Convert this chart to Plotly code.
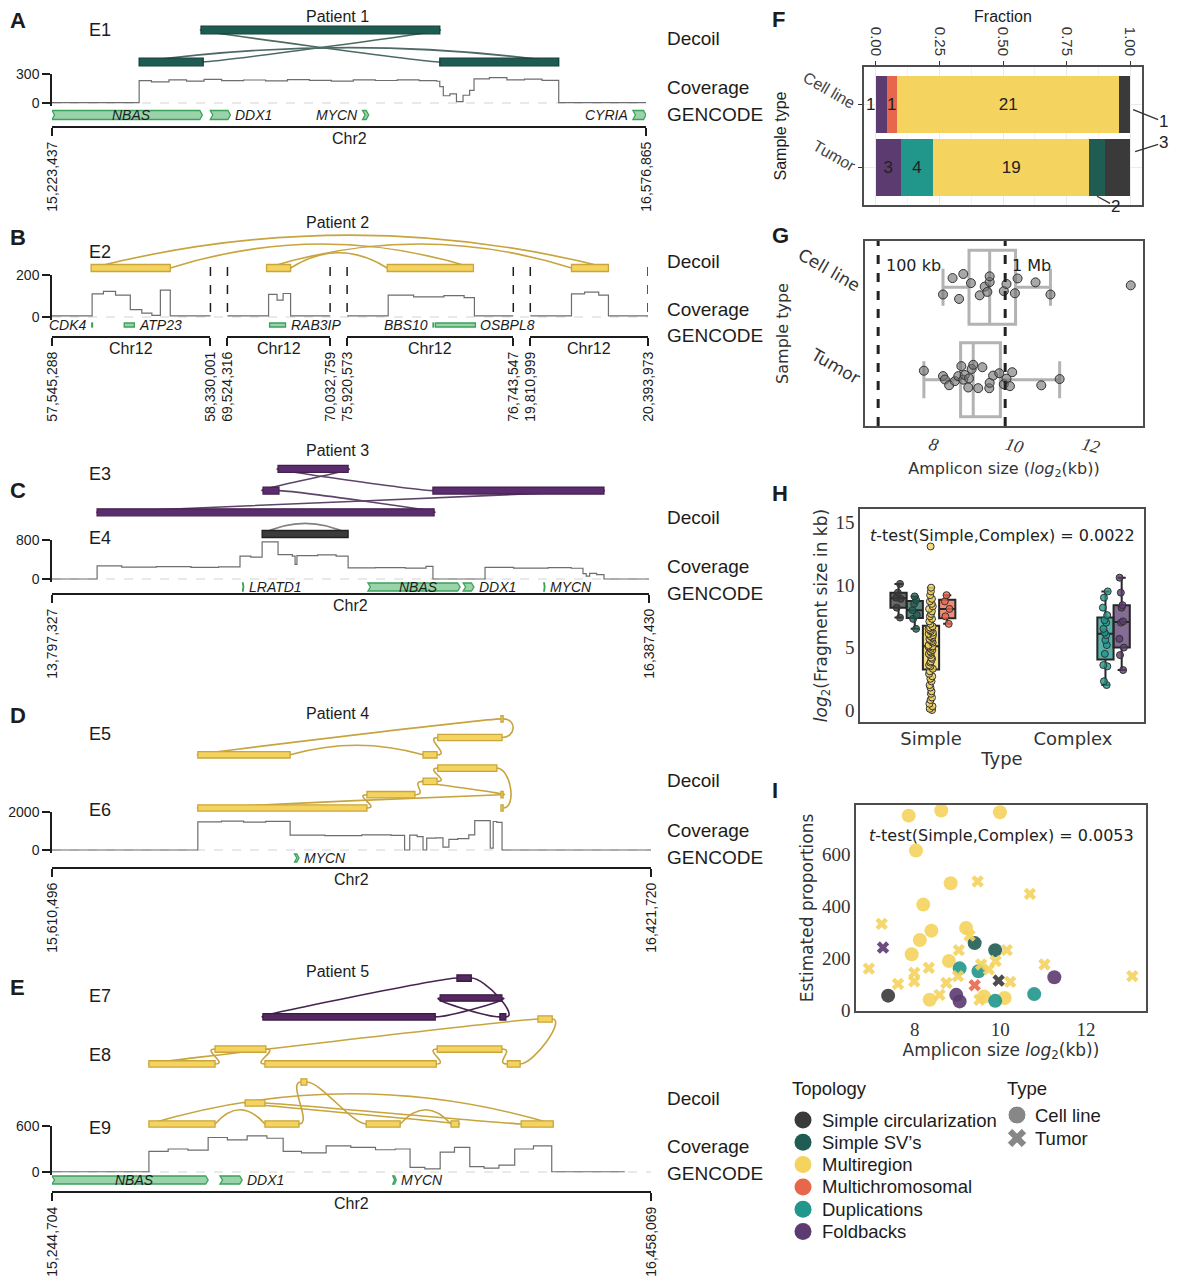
import math
import plotly.graph_objects as go

W, H = 1178, 1280
OX, OY = 8, 8                      # the page body margin the figure sits in
FW, FH = W - OX, H - OY
SANS, DJV, SERIF = "Liberation Sans", "DejaVu Sans", "Liberation Serif"
INK = "#1c1c1c"

# ---------------- shared categories ----------------
TOPOLOGY = ["Simple circularization", "Simple SV’s", "Multiregion",
            "Multichromosomal", "Duplications", "Foldbacks"]
TOPO_COLOR = ["#3a3a3a", "#1f5d53", "#f4d35e", "#e8674c", "#21968b", "#5c3b70"]
SAMPLE_TYPES = ["Cell line", "Tumor"]

# ---------------- A: patient 1 (positions in Mb) ----------------
A_seg_start = [15223437]
A_seg_end = [16576865]
A_bar_row = [1, 0, 0]
A_bar_start = [15.563, 15.422, 16.107]
A_bar_end = [16.107, 15.568, 16.378]
A_bar_ec = ["E1", "E1", "E1"]
A_links = [(0, "L", 2, "L"), (0, "R", 1, "R"), (1, "L", 2, "R")]
A_cov_x = [15.2234, 15.422, 15.45, 15.49, 15.53, 15.57, 15.61, 15.66, 15.71, 15.76, 15.81, 15.86,
           15.91, 15.96, 16.01, 16.06, 16.10, 16.107, 16.115, 16.13, 16.145, 16.16, 16.175, 16.185,
           16.22, 16.26, 16.30, 16.34, 16.378, 16.5769]
A_cov_y = [3, 232, 218, 240, 226, 244, 232, 238, 228, 241, 235, 226, 239, 233, 240, 231, 225, 170,
           75, 95, 15, 80, 130, 250, 262, 240, 246, 235, 3, 3]
A_gene_name = ["NBAS", "DDX1", "MYCN", "CYRIA"]
A_gene_start = [15.2234, 15.584, 15.931, 16.547]
A_gene_end = [15.566, 15.630, 15.945, 16.5769]
A_gene_side = ["in", "right", "left", "left"]

# ---------------- B: patient 2 (four chr12 windows) ----------------
B_seg_start = [57545288, 69524316, 75920573, 19810999]
B_seg_end = [58330001, 70032759, 76743547, 20393973]
B_bar_seg = [0, 1, 2, 3]
B_bar_row = [0, 0, 0, 0]
B_bar_start = [57.739, 69.718, 76.119, 20.015]
B_bar_end = [58.131, 69.837, 76.546, 20.198]
B_bar_ec = ["E2"] * 4
B_links = [(0, "L", 3, "R"), (0, "R", 2, "R"), (1, "L", 3, "L"), (1, "R", 2, "L")]
B_cov_seg = [0] * 10 + [1] * 6 + [2] * 7 + [3] * 6
B_cov_x = [57.5453, 57.744, 57.80, 57.86, 57.933, 57.99, 58.04, 58.082, 58.131, 58.330,
           69.5243, 69.728, 69.77, 69.80, 69.837, 70.0328,
           75.9206, 76.124, 76.25, 76.40, 76.50, 76.551, 76.7435,
           19.811, 20.015, 20.08, 20.15, 20.198, 20.394]
B_cov_y = [5, 110, 122, 104, 35, 18, 8, 128, 5, 5,
           5, 108, 80, 112, 5, 5,
           5, 104, 96, 102, 92, 5, 5,
           5, 110, 118, 104, 5, 5]
B_gene_name = ["CDK4", "ATP23", "RAB3IP", "BBS10", "OSBPL8"]
B_gene_seg = [0, 0, 1, 2, 2]
B_gene_start = [57.742, 57.903, 69.733, 76.346, 76.358]
B_gene_end = [57.746, 57.953, 69.812, 76.349, 76.556]
B_gene_side = ["left", "right", "right", "left", "right"]

# ---------------- C: patient 3 ----------------
C_seg_start = [13797327]
C_seg_end = [16387430]
C_bar_row = [3, 2, 2, 1, 0]
C_bar_start = [14.778, 14.713, 15.450, 13.993, 14.709]
C_bar_end = [15.082, 14.782, 16.192, 15.455, 15.082]
C_bar_ec = ["E3", "E3", "E3", "E3", "E4"]
C_links = [(0, "L", 2, "L"), (0, "R", 1, "L"), (1, "R", 3, "R"), (2, "R", 3, "L"), (4, "L", 4, "R")]
C_cov_x = [13.7973, 13.993, 14.10, 14.25, 14.40, 14.52, 14.613, 14.66, 14.709, 14.778, 14.84,
           14.852, 14.86, 14.95, 15.03, 15.082, 15.20, 15.33, 15.42, 15.450, 15.676, 15.80, 15.95,
           16.05, 16.101, 16.115, 16.13, 16.16, 16.192, 16.3874]
C_cov_y = [0, 270, 245, 255, 240, 250, 470, 450, 760, 500, 470, 300, 480, 495, 470, 230, 235, 225,
           260, 0, 240, 225, 235, 220, 110, 60, 115, 90, 0, 0]
C_gene_name = ["LRATD1", "NBAS", "DDX1", "MYCN"]
C_gene_start = [14.624, 15.168, 15.581, 15.931]
C_gene_end = [14.629, 15.568, 15.628, 15.936]
C_gene_side = ["right", "in", "right", "right"]

# ---------------- D: patient 4 ----------------
D_seg_start = [15610496]
D_seg_end = [16421720]
D_bar_row = [5.3, 4, 4, 6.7, 3, 2, 1, 0, 1, 0]
D_bar_start = [16.133, 15.808, 16.113, 16.2185, 16.133, 16.113, 16.037, 15.808, 16.2185, 16.2185]
D_bar_end = [16.220, 15.933, 16.132, 16.2215, 16.213, 16.132, 16.102, 16.037, 16.2215, 16.2215]
D_bar_ec = ["E5"] * 4 + ["E6"] * 6
D_links = [(1, "L", 3, "L"), (1, "R", 2, "L"), (2, "R", 0, "L"), (0, "R", 3, "R"),
           (7, "R", 6, "L"), (6, "R", 5, "L"), (5, "R", 4, "L"), (4, "R", 9, "R"),
           (5, "L", 8, "R"), (7, "L", 8, "L")]
D_cov_x = [15.6105, 15.808, 15.84, 15.87, 15.90, 15.933, 15.98, 16.03, 16.07, 16.088, 16.095,
           16.105, 16.113, 16.118, 16.13, 16.14, 16.148, 16.16, 16.175, 16.183, 16.204, 16.208,
           16.213, 16.220, 16.4217]
D_cov_y = [0, 1480, 1520, 1470, 1510, 780, 760, 800, 770, 0, 780, 700, 0, 620, 640, 150, 560, 600,
           800, 1550, 100, 1500, 1450, 0, 0]
D_gene_name = ["MYCN"]
D_gene_start = [15.939]
D_gene_end = [15.945]
D_gene_side = ["right"]

# ---------------- E: patient 5 ----------------
E_seg_start = [15244704]
E_seg_end = [16458069]
E_bar_row = [6.95, 6.0, 5.1, 5.1, 5.0, 3.57, 3.57, 2.86, 2.86, 2.86, 2, 1, 0, 0, 0, 0, 0]
E_bar_start = [16.065, 16.031, 15.672, 16.152, 16.229, 15.575, 16.025, 15.441, 15.676, 16.167,
               15.749, 15.636, 15.441, 15.676, 15.881, 16.053, 16.195]
E_bar_end = [16.094, 16.156, 16.021, 16.164, 16.258, 15.678, 16.156, 15.575, 16.023, 16.193,
             15.761, 15.676, 15.575, 15.745, 15.950, 16.069, 16.260]
E_bar_ec = ["E7"] * 4 + ["E8"] * 6 + ["E9"] * 7
E_links = [(2, "L", 0, "L"), (2, "R", 1, "R"), (1, "L", 3, "L"), (0, "R", 3, "R"),
           (7, "R", 5, "L"), (5, "R", 8, "L"), (8, "R", 6, "L"), (6, "R", 9, "L"),
           (9, "R", 4, "R"), (4, "L", 7, "L"),
           (12, "L", 16, "R"), (12, "R", 13, "L"), (13, "R", 10, "L"), (10, "R", 14, "L"),
           (14, "R", 15, "L"), (15, "R", 11, "L"), (11, "R", 16, "L")]
E_cov_x = [15.2447, 15.441, 15.48, 15.52, 15.561, 15.60, 15.64, 15.68, 15.713, 15.75, 15.80, 15.85,
           15.90, 15.94, 15.970, 16.00, 16.031, 16.06, 16.091, 16.12, 16.15, 16.182, 16.22, 16.257,
           16.405]
E_cov_y = [3, 270, 300, 285, 450, 420, 470, 440, 270, 250, 340, 320, 290, 300, 60, 40, 260, 320,
           70, 50, 90, 300, 340, 3, 3]
E_gene_name = ["NBAS", "DDX1", "MYCN"]
E_gene_start = [15.2447, 15.585, 15.935]
E_gene_end = [15.561, 15.630, 15.942]
E_gene_side = ["in", "right", "right"]

# ---------------- F: topology counts ----------------
F_order = ["Foldbacks", "Multichromosomal", "Duplications", "Multiregion",
           "Simple SV’s", "Simple circularization"]
F_cell = [1, 1, 0, 21, 0, 1]
F_tumor = [3, 0, 4, 19, 2, 3]

# ---------------- G: amplicon size (log2 kb) ----------------
G_cell = [8.34, 8.59, 8.76, 8.87, 9.07, 9.30, 9.43, 9.50, 9.56, 9.56, 9.93, 10.00, 10.22, 10.29,
          10.76, 11.15, 13.25]
G_tumor = [7.84, 8.34, 8.39, 8.50, 8.65, 8.74, 8.82, 8.87, 8.91, 9.00, 9.02, 9.09, 9.13, 9.26,
           9.37, 9.55, 9.56, 9.65, 9.81, 9.93, 10.00, 10.09, 10.15, 10.91, 11.39]

# ---------------- H: fragment sizes (log2 kb) ----------------
H_type = ["Simple", "Simple", "Simple", "Simple", "Complex", "Complex"]
H_sc = [7.4, 8.2, 8.9, 9.0, 9.4, 10.1]
H_sv = [6.5, 7.3, 7.6, 8.0, 8.5, 8.8, 9.1]
H_mr = [0.0, 0.1, 0.3, 0.5, 0.8, 1.0, 1.3, 1.5, 1.8, 2.0, 2.3, 2.5, 2.7, 2.9, 3.1, 3.3,
        3.5, 3.6, 3.8, 3.9, 4.1, 4.2, 4.4, 4.5, 4.6, 4.7, 4.8, 4.9, 5.0, 5.1, 5.1,
        5.2, 5.4, 5.5, 5.6, 5.7, 5.8, 5.9, 6.0, 6.1, 6.2, 6.3, 6.4, 6.5, 6.6, 6.7,
        6.9, 7.1, 7.3, 7.5, 7.7, 7.9, 8.1, 8.3, 8.5, 8.7, 8.9, 9.2, 9.5, 9.8, 13.1]
H_mc = [6.9, 7.5, 8.1, 8.7, 9.2]
H_dup = [2.0, 2.3, 3.5, 3.6, 4.5, 5.2, 5.6, 6.0, 6.2, 6.5, 7.0, 7.2, 7.6, 8.2, 9.0, 9.5]
H_fb = [3.2, 4.4, 5.0, 5.7, 7.0, 7.1, 8.2, 8.4, 9.4, 10.6]

# ---------------- I: size vs estimated proportions ----------------
I_cell_size = [7.86, 8.62, 9.99, 8.03, 8.84, 8.20, 9.20, 8.39, 8.12, 7.93, 8.80, 8.35, 10.10, 9.62,
               7.38, 9.40, 9.88, 9.05, 9.49, 9.88, 10.79, 8.97, 9.05, 11.26]
I_cell_prop = [747, 767, 760, 613, 487, 405, 315, 305, 269, 214, 188, 39, 46, 52,
               55, 257, 230, 160, 149, 35, 61, 58, 33, 126]
I_cell_topo = ["Multiregion"] * 14 + ["Simple circularization"] + ["Simple SV’s"] * 2 + \
              ["Duplications"] * 4 + ["Foldbacks"] * 3
I_tumor_size = [7.23, 6.93, 7.61, 7.99, 7.99, 8.33, 8.58, 8.74, 9.01, 9.03, 9.28, 9.47, 9.55, 9.73,
                9.89, 9.51, 10.15, 10.23, 10.69, 11.03, 13.08, 7.26, 9.40, 9.96]
I_tumor_prop = [331, 159, 100, 110, 143, 162, 58, 104, 130, 230, 286, 494, 175, 156,
                188, 39, 230, 108, 446, 175, 130, 240, 95, 113]
I_tumor_topo = ["Multiregion"] * 21 + ["Foldbacks", "Multichromosomal", "Simple circularization"]

# ---------------- styling ----------------
EC_STYLE = {  # fill, edge, link
    "E1": ("#1d5c52", "#123f38", "#4d6a65"),
    "E2": ("#f4d35e", "#c9a53c", "#c7a43e"),
    "E3": ("#5b2d6e", "#45204f", "#5e4468"),
    "E4": ("#3b3b3b", "#222222", "#808080"),
    "E5": ("#f4d35e", "#c9a53c", "#c7a43e"),
    "E6": ("#f4d35e", "#c9a53c", "#c7a43e"),
    "E7": ("#55285f", "#3b1a44", "#46224f"),
    "E8": ("#f4d35e", "#c9a53c", "#c7a43e"),
    "E9": ("#f4d35e", "#c9a53c", "#c7a43e"),
}

fig = go.Figure()
LAY, shapes, annos = {}, [], []
cnt = {"x": 0, "y": 0}


def px(p):
    return (p - OX) / FW


def py(p):
    return 1 - (p - OY) / FH


def axis(kind, **kw):
    cnt[kind] += 1
    n = cnt[kind]
    suffix = "" if n == 1 else str(n)
    LAY[f"{kind}axis{suffix}"] = kw
    return kind + suffix, f"{kind}axis{suffix}"


def text(x, y, s, size=16, family=SANS, anchor="center", color=INK, **kw):
    annos.append(dict(x=px(x), y=py(y), xref="paper", yref="paper", text=s, showarrow=False,
                      xanchor=anchor, yanchor="middle",
                      font=dict(family=family, size=size, color=color), **kw))


def track_panel(d, c):
    segs = list(zip(d["seg_start"], d["seg_end"]))
    x0px, x1px = c["xdom"]
    gap = 17
    total = sum(e - s for s, e in segs)
    bpp = total / (x1px - x0px - gap * (len(segs) - 1))
    offs, o = [], 0.0
    for s, e in segs:
        offs.append(o)
        o += (e - s) + gap * bpp
    span = o - gap * bpp

    def X(seg, mb):
        return offs[seg] + mb * 1e6 - segs[seg][0]

    xr, xk = axis("x", domain=[px(x0px), px(x1px)], range=[0, span], visible=False)
    zero, top, cmax = c["cov"]
    pad = 3
    yc, yck = axis("y", domain=[py(zero + pad), py(top)],
                   range=[-cmax * pad / (zero - top), cmax], anchor=xr,
                   tickvals=[0, cmax], ticktext=["0", str(cmax)], ticks="outside", ticklen=8,
                   tickwidth=1.5, tickcolor=INK, showline=True, linewidth=1.5, linecolor=INK,
                   tickfont=dict(size=14, color=INK), showgrid=False, zeroline=False)
    LAY[xk]["anchor"] = yc
    base, step, dtop = c["dec"]
    yd, _ = axis("y", domain=[py(base + 14), py(dtop)],
                 range=[-14 / step, (base - dtop) / step], anchor=xr, visible=False)
    gpx, gh = c["gene"]
    yg, _ = axis("y", domain=[py(gpx + 8), py(gpx - 8)], range=[-8, 8], anchor=xr, visible=False)

    # coverage
    cseg = d.get("cov_seg") or [0] * len(d["cov_x"])
    xs, ys, prev = [], [], None
    for s, x, v in zip(cseg, d["cov_x"], d["cov_y"]):
        if prev is not None and s != prev:
            xs.append(None)
            ys.append(None)
        xs.append(X(s, x))
        ys.append(v)
        prev = s
    shapes.append(dict(type="line", xref=xr, yref=yc, x0=0, x1=span, y0=0, y1=0, layer="below",
                       line=dict(color="#d4d4d4", width=1.2, dash="dash")))
    fig.add_trace(go.Scatter(x=xs, y=ys, xaxis=xr, yaxis=yc, mode="lines", line_shape="hv",
                             line=dict(color="#6e6e6e", width=1.2), hoverinfo="skip",
                             showlegend=False))

    # segment axes with coordinates
    for i, (s, e) in enumerate(segs):
        a = x0px + offs[i] / bpp
        b = a + (e - s) / bpp
        xa, _ = axis("x", domain=[px(a), px(b)], range=[s, e], anchor="free",
                     position=py(c["axis"]), tickvals=[s, e], ticktext=[f"{s:,}", f"{e:,}"],
                     tickangle=-90, ticks="outside", ticklen=8, tickwidth=2, tickcolor=INK,
                     showline=True, linewidth=2, linecolor=INK, showgrid=False, zeroline=False,
                     tickfont=dict(size=14, color=INK))
        fig.add_trace(go.Scatter(x=[s], y=[0], xaxis=xa, yaxis=yc, mode="markers",
                                 marker=dict(opacity=0), hoverinfo="skip", showlegend=False))
        text((a + b) / 2, c["axis"] + 11, d["chrom"], 16)
        if len(segs) > 1:
            for edge in ([e] if i == 0 else [s, e]):
                xe = X(i, edge / 1e6)
                shapes.append(dict(type="line", xref=xr, yref="paper", x0=xe, x1=xe,
                                   y0=py(312), y1=py(267),
                                   line=dict(color=INK, width=1.5, dash="dash")))

    # decoil connections then fragments
    bseg = d.get("bar_seg") or [0] * len(d["bar_row"])
    ends = []
    for s, r, b0, b1 in zip(bseg, d["bar_row"], d["bar_start"], d["bar_end"]):
        ends.append({"L": X(s, b0), "R": X(s, b1), "row": r})
    lift = c.get("lift", 1.0)
    for ia, sa, ib, sb in d["links"]:
        xa, ya = ends[ia][sa], ends[ia]["row"]
        xb, yb = ends[ib][sb], ends[ib]["row"]
        if abs(ya - yb) < 1e-9:
            apex = lift * (8 + 0.03 * abs(xb - xa) / bpp)
            path = f"M{xa},{ya} Q{(xa + xb) / 2},{ya + 2 * apex / step} {xb},{yb}"
        else:
            k = 14 * bpp
            da = 1 if sa == "R" else -1
            db = 1 if sb == "R" else -1
            path = f"M{xa},{ya} C{xa + da * k},{ya} {xb + db * k},{yb} {xb},{yb}"
        shapes.append(dict(type="path", path=path, xref=xr, yref=yd,
                           line=dict(color=EC_STYLE[d["bar_ec"][ia]][2], width=1.6)))
    half = c.get("half", 3.5) / step
    for en, ec in zip(ends, d["bar_ec"]):
        fill, edge, _ = EC_STYLE[ec]
        shapes.append(dict(type="rect", xref=xr, yref=yd, x0=en["L"], x1=en["R"],
                           y0=en["row"] - half, y1=en["row"] + half, fillcolor=fill,
                           line=dict(color=edge, width=1.3)))

    # genes
    gseg = d.get("gene_seg") or [0] * len(d["gene_name"])
    for s, nm, g0, g1, side in zip(gseg, d["gene_name"], d["gene_start"], d["gene_end"],
                                   d["gene_side"]):
        xs0, xs1 = X(s, g0), X(s, g1)
        h = gh / 2
        dd = min(2.5 * bpp, (xs1 - xs0) / 2)
        if gh > 5:
            path = (f"M{xs0},{-h} L{xs1 - dd},{-h} L{xs1},0 L{xs1 - dd},{h} "
                    f"L{xs0},{h} L{xs0 + dd},0 Z")
            shapes.append(dict(type="path", path=path, xref=xr, yref=yg,
                               fillcolor="rgba(120,195,140,0.75)",
                               line=dict(color="#3aa35a", width=1.3)))
        else:
            shapes.append(dict(type="rect", xref=xr, yref=yg, x0=xs0, x1=xs1, y0=-h, y1=h,
                               fillcolor="rgba(120,195,140,0.75)",
                               line=dict(color="#3aa35a", width=1.3)))
        if side == "in":
            lx, anc = (xs0 + xs1) / 2 + 4 * bpp, "center"
        elif side == "right":
            lx, anc = xs1 + 3 * bpp, "left"
        else:
            lx, anc = xs0 - 3 * bpp, "right"
        annos.append(dict(x=lx, y=0, xref=xr, yref=yg, text=f"<i>{nm}</i>", showarrow=False,
                          xanchor=anc, yanchor="middle",
                          font=dict(family=SANS, size=14, color=INK)))

    # labels
    text(8, c["letter"][1], f"<b>{c['letter'][0]}</b>", 22, anchor="left")
    text(337, c["patient"][1], c["patient"][0], 16)
    for nm, ypx in c["ec"]:
        text(100, ypx, nm, 18)
    for lab, ypx in zip(["Decoil", "Coverage", "GENCODE"], c["right"]):
        text(665, ypx, lab, 19, anchor="left")


track_panel(
    dict(seg_start=A_seg_start, seg_end=A_seg_end, chrom="Chr2", cov_x=A_cov_x, cov_y=A_cov_y,
         bar_row=A_bar_row, bar_start=A_bar_start, bar_end=A_bar_end, bar_ec=A_bar_ec,
         links=A_links, gene_name=A_gene_name, gene_start=A_gene_start, gene_end=A_gene_end,
         gene_side=A_gene_side),
    dict(xdom=(52, 646), axis=127, cov=(103, 74, 300), dec=(62, 32, 10), gene=(115, 9),
         lift=0.7, half=3.8, letter=("A", 21), patient=("Patient 1", 17), ec=[("E1", 30)],
         right=(38, 87, 114)))

track_panel(
    dict(seg_start=B_seg_start, seg_end=B_seg_end, chrom="Chr12", cov_seg=B_cov_seg,
         cov_x=B_cov_x, cov_y=B_cov_y, bar_seg=B_bar_seg, bar_row=B_bar_row,
         bar_start=B_bar_start, bar_end=B_bar_end, bar_ec=B_bar_ec, links=B_links,
         gene_seg=B_gene_seg, gene_name=B_gene_name, gene_start=B_gene_start,
         gene_end=B_gene_end, gene_side=B_gene_side),
    dict(xdom=(52, 648), axis=337, cov=(317, 275, 200), dec=(268, 20, 222), gene=(325, 4),
         lift=1.4, letter=("B", 237), patient=("Patient 2", 222), ec=[("E2", 252)],
         right=(261, 309, 336)))

track_panel(
    dict(seg_start=C_seg_start, seg_end=C_seg_end, chrom="Chr2", cov_x=C_cov_x, cov_y=C_cov_y,
         bar_row=C_bar_row, bar_start=C_bar_start, bar_end=C_bar_end, bar_ec=C_bar_ec,
         links=C_links, gene_name=C_gene_name, gene_start=C_gene_start, gene_end=C_gene_end,
         gene_side=C_gene_side),
    dict(xdom=(52, 649), axis=594, cov=(579, 540, 800), dec=(534, 21.7, 440), gene=(587, 8),
         letter=("C", 490), patient=("Patient 3", 450), ec=[("E3", 474), ("E4", 538)],
         right=(518, 566, 593)))

track_panel(
    dict(seg_start=D_seg_start, seg_end=D_seg_end, chrom="Chr2", cov_x=D_cov_x, cov_y=D_cov_y,
         bar_row=D_bar_row, bar_start=D_bar_start, bar_end=D_bar_end, bar_ec=D_bar_ec,
         links=D_links, gene_name=D_gene_name, gene_start=D_gene_start, gene_end=D_gene_end,
         gene_side=D_gene_side),
    dict(xdom=(52, 651), axis=868, cov=(850, 812, 2000), dec=(808, 13.3, 705), gene=(858, 8),
         lift=0.8, half=3.2, letter=("D", 715), patient=("Patient 4", 713),
         ec=[("E5", 734), ("E6", 810)], right=(781, 830, 857)))

track_panel(
    dict(seg_start=E_seg_start, seg_end=E_seg_end, chrom="Chr2", cov_x=E_cov_x, cov_y=E_cov_y,
         bar_row=E_bar_row, bar_start=E_bar_start, bar_end=E_bar_end, bar_ec=E_bar_ec,
         links=E_links, gene_name=E_gene_name, gene_start=E_gene_start, gene_end=E_gene_end,
         gene_side=E_gene_side),
    dict(xdom=(52, 651), axis=1192, cov=(1172, 1126, 600), dec=(1124, 21, 962),
         gene=(1180, 8), lift=1.5, half=3.2, letter=("E", 987), patient=("Patient 5", 971),
         ec=[("E7", 996), ("E8", 1055), ("E9", 1128)], right=(1098, 1146, 1173)))

FRAME = dict(showline=True, mirror=True, linecolor="#4d4d4d", linewidth=1.5, zeroline=False)

# ---------------- F ----------------
xF, kxF = axis("x", domain=[px(864), px(1142)], range=[-0.047, 1.047], side="top",
               tickvals=[0, 0.25, 0.5, 0.75, 1], ticktext=["0.00", "0.25", "0.50", "0.75", "1.00"],
               tickangle=90, ticks="outside", ticklen=4, tickcolor="#333",
               tickfont=dict(family=SANS, size=15, color="#333"), showgrid=True,
               gridcolor="#ebebeb", minor=dict(tick0=0.125, dtick=0.25, showgrid=True,
                                               gridcolor="#f3f3f3"),
               title=dict(text="Fraction", font=dict(family=SANS, size=16, color=INK),
                          standoff=5), **FRAME)
yF, kyF = axis("y", domain=[py(205), py(67)], type="category", categoryorder="array",
               categoryarray=SAMPLE_TYPES, range=[1.6, -0.6], tickangle=30, ticks="outside",
               ticklen=4, tickcolor="#333", tickfont=dict(family=SANS, size=16, color="#444"),
               showgrid=True, gridcolor="#ebebeb",
               title=dict(text="Sample type", font=dict(family=SANS, size=16, color=INK),
                          standoff=10), **FRAME)
LAY[kxF]["anchor"] = yF
LAY[kyF]["anchor"] = xF
tot_c, tot_t = sum(F_cell), sum(F_tumor)
for i, name in enumerate(F_order):
    col = TOPO_COLOR[TOPOLOGY.index(name)]
    counts = [F_cell[i], F_tumor[i]]
    outside = name in ("Simple SV’s", "Simple circularization")
    labels = ["" if (v == 0 or outside) else str(v) for v in counts]
    if name == "Foldbacks":
        labels[0] = ""            # too narrow: written just left of the bar below
    bar = dict(x=[counts[0] / tot_c, counts[1] / tot_t], y=SAMPLE_TYPES, orientation="h",
               width=0.9, marker=dict(color=col, line=dict(width=0)),
               xaxis=xF, yaxis=yF, showlegend=False, hoverinfo="skip")
    if any(labels):
        bar.update(text=labels, textposition="inside", insidetextanchor="middle", textangle=0,
                   textfont=dict(family=SANS, size=17, color="#222"))
    fig.add_trace(go.Bar(**bar))
annos.append(dict(x=0, y=0, xref=xF, yref=yF, text=str(F_cell[0]), showarrow=False,
                  xanchor="right", xshift=1, font=dict(family=SANS, size=17, color="#222")))
for lab, xx, yy, ax, ay in [(F_cell[5], 1.012, 0.08, 30, 12), (F_tumor[5], 1.02, 0.75, 28, -9),
                            (F_tumor[4], 0.87, 1.46, 18, 10)]:
    annos.append(dict(x=xx, y=yy, xref=xF, yref=yF, text=str(lab), showarrow=True, arrowhead=0,
                      arrowwidth=1.3, arrowcolor="#333", ax=ax, ay=ay, borderpad=0,
                      font=dict(family=SANS, size=17, color="#222")))
text(770, 19, "<b>F</b>", 22, anchor="left")

# ---------------- G ----------------
xG, kxG = axis("x", domain=[px(865), px(1143)], range=[6.30, 13.57], tickvals=[8, 10, 12],
               tickangle=15, tickfont=dict(family=SERIF, size=18, color="#333", style="italic"),
               showgrid=False,
               title=dict(text="Amplicon size (<i>log</i><sub>2</sub>(kb))",
                          font=dict(family=DJV, size=16, color="#333"), standoff=6), **FRAME)
yG, kyG = axis("y", domain=[py(426), py(241)], type="category", categoryorder="array",
               categoryarray=SAMPLE_TYPES, range=[1.5, -0.5], tickangle=30,
               tickfont=dict(family=DJV, size=17, color="#333"), showgrid=False,
               title=dict(text="Sample type", font=dict(family=DJV, size=16, color="#333"),
                          standoff=2), **FRAME)
LAY[kxG]["anchor"] = yG
LAY[kyG]["anchor"] = xG
fig.add_trace(go.Box(
    x=G_cell + G_tumor, y=["Cell line"] * len(G_cell) + ["Tumor"] * len(G_tumor),
    orientation="h", boxpoints="all", jitter=0.45, pointpos=0, width=0.8, whiskerwidth=0.5,
    fillcolor="rgba(0,0,0,0)", line=dict(color="#b3b3b3", width=3),
    marker=dict(color="rgba(110,110,110,0.6)", size=9, line=dict(color="#333", width=1)),
    xaxis=xG, yaxis=yG, showlegend=False, hoverinfo="skip"))
for kb, lab, dx in [(100, "100 kb", 6), (1000, "1 Mb", 5)]:
    xv = math.log2(kb)
    shapes.append(dict(type="line", xref=xG, yref=yG + " domain", x0=xv, x1=xv, y0=0, y1=1,
                       line=dict(color="#222", width=3, dash="dash")))
    annos.append(dict(x=xv, y=0.93, xref=xG, yref=yG + " domain", text=lab, showarrow=False,
                      xanchor="left", xshift=dx, font=dict(family=DJV, size=16, color="#222")))
text(770, 236, "<b>G</b>", 22, anchor="left")

# ---------------- H ----------------
xH, kxH = axis("x", domain=[px(860), px(1144)], type="category", categoryorder="array",
               categoryarray=["Simple", "Complex"], range=[-0.5, 1.5],
               tickfont=dict(family=DJV, size=18, color="#333"), showgrid=False,
               title=dict(text="Type", font=dict(family=DJV, size=18, color="#333"), standoff=4),
               **FRAME)
yH, kyH = axis("y", domain=[py(722), py(509)], range=[-0.96, 16.1], tickvals=[0, 5, 10, 15],
               tickfont=dict(family=SERIF, size=19, color="#333"), showgrid=False,
               title=dict(text="<i>log</i><sub>2</sub>(Fragment size in kb)",
                          font=dict(family=DJV, size=17, color="#333"), standoff=4), **FRAME)
LAY[kxH]["anchor"] = yH
LAY[kyH]["anchor"] = xH
H_values = [H_sc, H_sv, H_mr, H_mc, H_dup, H_fb]
for name, col, typ, vals in zip(TOPOLOGY, TOPO_COLOR, H_type, H_values):
    r, g, b = (int(col[i:i + 2], 16) for i in (1, 3, 5))
    fig.add_trace(go.Box(
        x=[typ] * len(vals), y=vals, name=name, boxpoints="all", jitter=0.35, pointpos=0,
        whiskerwidth=0.5, fillcolor=f"rgba({r},{g},{b},0.75)",
        line=dict(color="#262626", width=2),
        marker=dict(color=f"rgba({r},{g},{b},0.8)", size=7, line=dict(color="#333", width=1)),
        xaxis=xH, yaxis=yH, showlegend=False, hoverinfo="skip"))
annos.append(dict(x=0.5, y=0.93, xref=xH + " domain", yref=yH + " domain", showarrow=False,
                  text="<i>t</i>-test(Simple,Complex) = 0.0022",
                  font=dict(family=DJV, size=16, color="#222")))
text(770, 493, "<b>H</b>", 22, anchor="left")

# ---------------- I ----------------
xI, kxI = axis("x", domain=[px(856), px(1146)], range=[6.63, 13.4], tickvals=[8, 10, 12],
               tickfont=dict(family=SERIF, size=19, color="#333"), showgrid=False,
               title=dict(text="Amplicon size <i>log</i><sub>2</sub>(kb))",
                          font=dict(family=DJV, size=17, color="#333"), standoff=2), **FRAME)
yI, kyI = axis("y", domain=[py(1011), py(805)], range=[-4, 788], tickvals=[0, 200, 400, 600],
               tickfont=dict(family=SERIF, size=19, color="#333"), showgrid=False,
               title=dict(text="Estimated proportions",
                          font=dict(family=DJV, size=17, color="#333"), standoff=4), **FRAME)
LAY[kxI]["anchor"] = yI
LAY[kyI]["anchor"] = xI
for sizes, props, topos, sym, ms in [(I_cell_size, I_cell_prop, I_cell_topo, "circle", 14),
                                     (I_tumor_size, I_tumor_prop, I_tumor_topo, "x", 11)]:
    for name, col in zip(TOPOLOGY, TOPO_COLOR):
        idx = [i for i, t in enumerate(topos) if t == name]
        if not idx:
            continue
        fig.add_trace(go.Scatter(
            x=[sizes[i] for i in idx], y=[props[i] for i in idx], mode="markers",
            marker=dict(symbol=sym, size=ms, color=col, opacity=0.9, line=dict(width=0)),
            cliponaxis=False, xaxis=xI, yaxis=yI, showlegend=False, hoverinfo="skip"))
annos.append(dict(x=0.5, y=0.91, xref=xI + " domain", yref=yI + " domain", showarrow=False,
                  text="<i>t</i>-test(Simple,Complex) = 0.0053",
                  font=dict(family=DJV, size=16, color="#222")))
text(770, 790, "<b>I</b>", 22, anchor="left")

# ---------------- legend (drawn as a key on its own hidden axes) ----------------
KEY_X0, KEY_X1, KEY_Y0, KEY_Y1 = 770, 1178, 1076, 1246
xK, kxK = axis("x", domain=[px(KEY_X0), px(KEY_X1)], range=[KEY_X0, KEY_X1], visible=False)
yK, kyK = axis("y", domain=[py(KEY_Y1), py(KEY_Y0)], range=[KEY_Y1, KEY_Y0], visible=False)
LAY[kxK]["anchor"] = yK
LAY[kyK]["anchor"] = xK
row_gap = 22.3
key_rows = [1120 + row_gap * i for i in range(len(TOPOLOGY))]
fig.add_trace(go.Scatter(x=[803] * len(TOPOLOGY), y=key_rows, mode="markers",
                         marker=dict(size=17, color=TOPO_COLOR), xaxis=xK, yaxis=yK,
                         showlegend=False, hoverinfo="skip", cliponaxis=False))
text(790, 1088, "Topology", 18.5, anchor="left")
for name, yy in zip(TOPOLOGY, key_rows):
    text(820, yy, name, 18.5, anchor="left")
type_rows = [1115, 1138]
fig.add_trace(go.Scatter(x=[1017, 1017], y=type_rows, mode="markers",
                         marker=dict(size=[18, 17], color="#555", symbol=["circle", "x"]),
                         xaxis=xK, yaxis=yK, showlegend=False, hoverinfo="skip",
                         cliponaxis=False))
text(1005, 1088, "Type", 18.5, anchor="left")
for name, yy in zip(SAMPLE_TYPES, type_rows):
    text(1033, yy, name, 18.5, anchor="left")

fig.update_layout(
    width=FW, height=FH, margin=dict(l=0, r=0, t=0, b=0), template="none",
    paper_bgcolor="white", plot_bgcolor="rgba(0,0,0,0)", showlegend=False,
    font=dict(family=SANS, color=INK), barmode="stack", boxmode="group", boxgap=0.2,
    boxgroupgap=0, uniformtext=dict(mode="show", minsize=17), hovermode=False,
    shapes=shapes, annotations=annos, **LAY)

fig.write_html("out.html")
